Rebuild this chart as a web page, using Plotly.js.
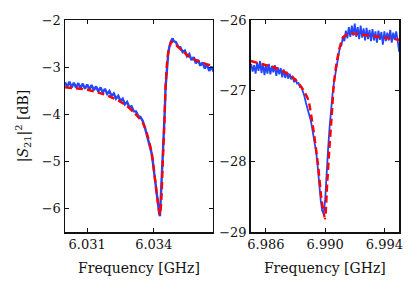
<!DOCTYPE html>
<html>
<head>
<meta charset="utf-8">
<script src="https://cdn.plot.ly/plotly-3.0.1.min.js"></script>
<style>html,body{margin:0;padding:0;background:#fff;}#chart{width:415px;height:289px;}</style>
</head>
<body>
<div id="chart"></div>
<script>
// Left resonance (near 6.034 GHz): measured data
const leftDataX = [6.0300,6.0301,6.0302,6.0303,6.0304,6.0305,6.0306,6.0307,6.0308,6.0309,
  6.0310,6.0311,6.0312,6.0313,6.0314,6.0315,6.0316,6.0317,6.0318,6.0319,
  6.0320,6.0321,6.0322,6.0323,6.0324,6.0325,6.0326,6.0327,6.0328,6.0329,
  6.0330,6.0331,6.0332,6.0333,6.0334,6.0335,6.0336,6.0337,6.0338,6.0339,
  6.03395,6.0340,6.03405,6.0341,6.03415,6.0342,6.03425,6.03428,6.03433,6.03438,
  6.03443,6.03447,6.0345,6.03453,6.03458,6.03465,6.0347,6.03477,6.03485,6.0349,
  6.0350,6.0351,6.0352,6.0353,6.0354,6.0355,6.0356,6.0357,6.0358,6.0359,
  6.0360,6.0361,6.0362,6.0363,6.0364,6.0365,6.0366,6.0367];
const leftDataY = [-3.32,-3.42,-3.31,-3.43,-3.33,-3.44,-3.34,-3.45,-3.35,-3.46,
  -3.37,-3.47,-3.38,-3.49,-3.41,-3.52,-3.43,-3.54,-3.46,-3.57,
  -3.51,-3.61,-3.56,-3.67,-3.61,-3.72,-3.67,-3.79,-3.74,-3.85,
  -3.83,-3.94,-3.94,-4.04,-4.06,-4.14,-4.28,-4.45,-4.62,-4.82,
  -4.98,-5.18,-5.40,-5.58,-5.76,-5.95,-6.12,-6.16,-5.70,-5.17,
  -4.70,-4.30,-3.90,-3.45,-3.05,-2.72,-2.58,-2.46,-2.39,-2.45,
  -2.47,-2.57,-2.58,-2.68,-2.65,-2.77,-2.72,-2.85,-2.79,-2.92,
  -2.85,-2.97,-2.90,-3.03,-2.94,-3.08,-2.99,-3.10];
// Left resonance: fit
const leftFitX = [6.0300,6.0305,6.0310,6.0315,6.0320,6.0324,6.0328,6.0331,6.0333,6.0335,
  6.0337,6.0339,6.0340,6.0341,6.0342,6.03428,6.03435,6.0344,6.03447,6.03453,
  6.0346,6.03467,6.03475,6.0348,6.03485,6.0350,6.0353,6.0356,6.0360,6.0364,6.0367];
const leftFitY = [-3.43,-3.45,-3.48,-3.54,-3.62,-3.71,-3.83,-3.96,-4.06,-4.18,
  -4.42,-4.80,-5.15,-5.55,-5.92,-6.14,-5.75,-5.10,-4.30,-3.45,
  -2.90,-2.64,-2.51,-2.46,-2.47,-2.53,-2.66,-2.78,-2.87,-2.94,-2.98];

// Right resonance (near 6.990 GHz): measured data
const rightDataX = [6.9850,6.9851,6.9852,6.9853,6.9854,6.9855,6.9856,6.9857,6.9858,6.9859,
  6.9860,6.9861,6.9862,6.9863,6.9864,6.9865,6.9866,6.9867,6.9868,6.9869,
  6.9870,6.9871,6.9872,6.9873,6.9874,6.9875,6.9876,6.9877,6.9878,6.9879,
  6.9880,6.9881,6.9882,6.9883,6.9884,6.9885,6.9886,6.9887,6.9888,6.9889,
  6.9890,6.9891,6.9892,6.9893,6.9894,6.9895,6.9896,6.9897,6.9898,6.9899,
  6.9900,6.9901,6.9902,6.9903,6.9904,6.9905,6.9906,6.9907,6.9908,6.9909,
  6.9910,6.9911,6.9912,6.9913,6.9914,6.9915,6.9916,6.9917,6.9918,6.9919,
  6.9920,6.9921,6.9922,6.9923,6.9924,6.9925,6.9926,6.9927,6.9928,6.9929,
  6.9930,6.9931,6.9932,6.9933,6.9934,6.9935,6.9936,6.9937,6.9938,6.9939,
  6.9940,6.9941,6.9942,6.9943,6.9944,6.9945,6.9946,6.9947,6.9948,6.9949,6.9950];
const rightDataY = [-26.62,-26.73,-26.64,-26.76,-26.60,-26.72,-26.58,-26.75,-26.61,-26.78,
  -26.64,-26.76,-26.62,-26.77,-26.65,-26.74,-26.64,-26.79,-26.67,-26.77,
  -26.68,-26.81,-26.70,-26.82,-26.73,-26.83,-26.76,-26.84,-26.79,-26.88,
  -26.83,-26.90,-26.89,-26.95,-26.95,-27.01,-27.08,-27.17,-27.24,-27.33,
  -27.40,-27.50,-27.62,-27.76,-27.88,-28.08,-28.33,-28.55,-28.70,-28.74,
  -28.55,-28.10,-27.82,-27.52,-27.25,-27.05,-26.88,-26.75,-26.62,-26.52,
  -26.38,-26.36,-26.24,-26.30,-26.15,-26.26,-26.10,-26.24,-26.08,-26.22,
  -26.05,-26.24,-26.10,-26.27,-26.08,-26.25,-26.12,-26.29,-26.11,-26.27,
  -26.14,-26.30,-26.13,-26.29,-26.16,-26.32,-26.15,-26.28,-26.17,-26.35,
  -26.16,-26.30,-26.18,-26.29,-26.14,-26.32,-26.18,-26.28,-26.16,-26.29,-26.45];
// Right resonance: fit
const rightFitX = [6.98497,6.9862,6.9867,6.9872,6.9876,6.9881,6.98852,6.98886,6.98924,6.98953,
  6.98976,6.98999,6.99014,6.99028,6.99044,6.99059,6.99078,6.99095,6.99122,6.99168,
  6.9925,6.9933,6.9940,6.99499];
const rightFitY = [-26.58,-26.65,-26.68,-26.73,-26.78,-26.87,-26.99,-27.13,-27.60,-28.07,
  -28.55,-28.81,-28.31,-27.84,-27.37,-26.90,-26.60,-26.42,-26.24,-26.19,
  -26.21,-26.23,-26.25,-26.28];

const leftXTicks = [6.031, 6.034];
const rightXTicks = [6.986, 6.990, 6.994];
const leftYTicks = [-2, -3, -4, -5, -6];
const rightYTicks = [-26, -27, -28, -29];

const blue = 'rgb(35,70,255)';
const red = 'rgb(255,0,0)';
const serif = '"DejaVu Serif", "Liberation Serif", serif';

const traces = [
  {x: leftDataX, y: leftDataY, xaxis: 'x', yaxis: 'y', mode: 'lines', line: {color: blue, width: 2.4}, hoverinfo: 'skip'},
  {x: leftFitX, y: leftFitY, xaxis: 'x', yaxis: 'y', mode: 'lines', line: {color: red, width: 2.4, dash: '7px,4px', shape: 'spline', smoothing: 0.6}, hoverinfo: 'skip'},
  {x: rightDataX, y: rightDataY, xaxis: 'x2', yaxis: 'y2', mode: 'lines', line: {color: blue, width: 1.8}, hoverinfo: 'skip'},
  {x: rightFitX, y: rightFitY, xaxis: 'x2', yaxis: 'y2', mode: 'lines', line: {color: red, width: 2.4, dash: '7px,4px', shape: 'spline', smoothing: 0.6}, hoverinfo: 'skip'}
];

const axCommon = {
  showgrid: false, zeroline: false, showline: true, linecolor: '#111', linewidth: 1.5,
  mirror: 'ticks', ticks: 'inside', ticklen: 4, tickwidth: 1, tickcolor: '#111',
  tickfont: {family: serif, size: 13, color: '#111'}, automargin: false
};
const titleFont = {family: serif, size: 14, color: '#111'};

const layout = {
  width: 415, height: 289,
  margin: {l: 65, r: 16, t: 20, b: 57},
  paper_bgcolor: '#fff', plot_bgcolor: '#fff',
  showlegend: false,
  xaxis: Object.assign({}, axCommon, {domain: [0, 0.4431], range: [6.0300, 6.03667],
    tickvals: leftXTicks, ticktext: leftXTicks.map(v => v.toFixed(3)),
    title: {text: 'Frequency [GHz]', font: titleFont, standoff: 12}, anchor: 'y'}),
  yaxis: Object.assign({}, axCommon, {domain: [0, 1], range: [-6.5, -2], tickvals: leftYTicks,
    title: {text: '|<i>S</i><sub>21</sub>|<sup>2</sup> [dB]', font: titleFont, standoff: 10}, anchor: 'x'}),
  xaxis2: Object.assign({}, axCommon, {domain: [0.556, 1], range: [6.98497, 6.99499],
    tickvals: rightXTicks, ticktext: rightXTicks.map(v => v.toFixed(3)),
    title: {text: 'Frequency [GHz]', font: titleFont, standoff: 12}, anchor: 'y2'}),
  yaxis2: Object.assign({}, axCommon, {domain: [0, 1], range: [-29, -26], tickvals: rightYTicks, anchor: 'x2'})
};

Plotly.newPlot('chart', traces, layout, {staticPlot: true, displayModeBar: false});
</script>
</body>
</html>
